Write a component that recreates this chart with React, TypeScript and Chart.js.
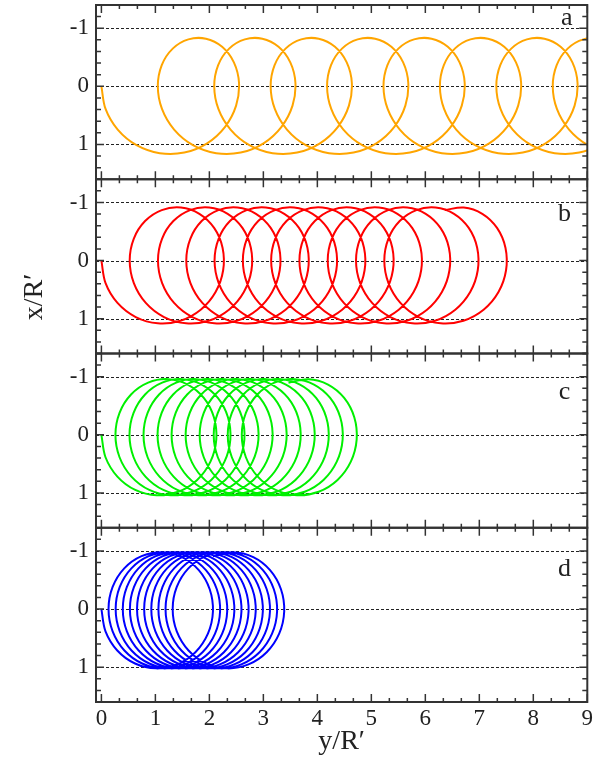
import React, { useEffect, useRef } from 'react';
import { Chart, registerables } from 'chart.js';

Chart.register(...registerables);

// ---------- data ----------
// horizontal coordinate y/R' (…YR) and vertical coordinate x/R' (…XR) along each trajectory
const panelLetters = ['a', 'b', 'c', 'd'];
const xTickValues = [0, 1, 2, 3, 4, 5, 6, 7, 8, 9];
const xTickLabels = ['0', '1', '2', '3', '4', '5', '6', '7', '8', '9'];
const yTickValues = [-1, 0, 1];
const yTickLabels = ['-1', '0', '1'];

const aYR = [
  0, 0.077, 0.302, 0.651, 1.081, 1.536, 1.958, 2.291, 2.495, 2.549, 2.454, 2.236, 1.936, 1.611, 1.321, 1.118,
  1.045, 1.122, 1.347, 1.696, 2.126, 2.581, 3.003, 3.336, 3.540, 3.594, 3.499, 3.281, 2.981, 2.656, 2.366, 2.163,
  2.090, 2.167, 2.392, 2.741, 3.171, 3.626, 4.048, 4.381, 4.585, 4.639, 4.544, 4.326, 4.026, 3.701, 3.411, 3.208,
  3.135, 3.212, 3.437, 3.786, 4.216, 4.671, 5.093, 5.426, 5.630, 5.684, 5.589, 5.371, 5.071, 4.746, 4.456, 4.253,
  4.180, 4.257, 4.482, 4.831, 5.261, 5.716, 6.138, 6.471, 6.675, 6.729, 6.634, 6.416, 6.116, 5.791, 5.501, 5.298,
  5.225, 5.302, 5.527, 5.876, 6.306, 6.761, 7.183, 7.516, 7.720, 7.774, 7.679, 7.461, 7.161, 6.836, 6.546, 6.343,
  6.270, 6.347, 6.572, 6.921, 7.351, 7.806, 8.228, 8.561, 8.765, 8.819, 8.724, 8.506, 8.206, 7.881, 7.591, 7.388,
  7.315, 7.392, 7.617, 7.966, 8.396, 8.851, 9.273, 9.606, 9.810, 9.864, 9.769, 9.551, 9.251, 8.926, 8.636, 8.433,
  8.360, 8.437, 8.662, 9.011, 9.441, 9.896, 10.318, 10.651, 10.855,
];
const aXR = [
  0, 0.390, 0.746, 1.014, 1.152, 1.141, 0.981, 0.697, 0.333, -0.057, -0.413, -0.681, -0.820, -0.808, -0.649, -0.365,
  0, 0.390, 0.746, 1.014, 1.152, 1.141, 0.981, 0.697, 0.333, -0.057, -0.413, -0.681, -0.820, -0.808, -0.649, -0.365,
  0, 0.390, 0.746, 1.014, 1.152, 1.141, 0.981, 0.697, 0.333, -0.057, -0.413, -0.681, -0.820, -0.808, -0.649, -0.365,
  0, 0.390, 0.746, 1.014, 1.152, 1.141, 0.981, 0.697, 0.333, -0.057, -0.413, -0.681, -0.820, -0.808, -0.649, -0.365,
  0, 0.390, 0.746, 1.014, 1.152, 1.141, 0.981, 0.697, 0.333, -0.057, -0.413, -0.681, -0.820, -0.808, -0.649, -0.365,
  0, 0.390, 0.746, 1.014, 1.152, 1.141, 0.981, 0.697, 0.333, -0.057, -0.413, -0.681, -0.820, -0.808, -0.649, -0.365,
  0, 0.390, 0.746, 1.014, 1.152, 1.141, 0.981, 0.697, 0.333, -0.057, -0.413, -0.681, -0.820, -0.808, -0.649, -0.365,
  0, 0.390, 0.746, 1.014, 1.152, 1.141, 0.981, 0.697, 0.333, -0.057, -0.413, -0.681, -0.820, -0.808, -0.649, -0.365,
  0, 0.390, 0.746, 1.014, 1.152, 1.141, 0.981, 0.697, 0.333,
];

const bYR = [
  0, 0.077, 0.298, 0.636, 1.044, 1.465, 1.839, 2.115, 2.255, 2.244, 2.088, 1.815, 1.473, 1.118, 0.809, 0.599,
  0.524, 0.601, 0.822, 1.160, 1.568, 1.989, 2.363, 2.639, 2.779, 2.768, 2.612, 2.339, 1.997, 1.642, 1.333, 1.123,
  1.048, 1.125, 1.346, 1.684, 2.092, 2.513, 2.887, 3.163, 3.303, 3.292, 3.136, 2.863, 2.521, 2.166, 1.857, 1.647,
  1.572, 1.649, 1.870, 2.208, 2.616, 3.037, 3.411, 3.687, 3.827, 3.816, 3.660, 3.387, 3.045, 2.690, 2.381, 2.171,
  2.096, 2.173, 2.394, 2.732, 3.140, 3.561, 3.935, 4.211, 4.351, 4.340, 4.184, 3.911, 3.569, 3.214, 2.905, 2.695,
  2.620, 2.697, 2.918, 3.256, 3.664, 4.085, 4.459, 4.735, 4.875, 4.864, 4.708, 4.435, 4.093, 3.738, 3.429, 3.219,
  3.144, 3.221, 3.442, 3.780, 4.188, 4.609, 4.983, 5.259, 5.399, 5.388, 5.232, 4.959, 4.617, 4.262, 3.953, 3.743,
  3.668, 3.745, 3.966, 4.304, 4.712, 5.133, 5.507, 5.783, 5.923, 5.912, 5.756, 5.483, 5.141, 4.786, 4.477, 4.267,
  4.192, 4.269, 4.490, 4.828, 5.236, 5.657, 6.031, 6.307, 6.447, 6.436, 6.280, 6.007, 5.665, 5.310, 5.001, 4.791,
  4.716, 4.793, 5.014, 5.352, 5.760, 6.181, 6.555, 6.831, 6.971, 6.960, 6.804, 6.531, 6.189, 5.834, 5.525, 5.315,
  5.240, 5.317, 5.538, 5.876, 6.284, 6.705, 7.079, 7.355, 7.495, 7.484, 7.328, 7.055, 6.713, 6.358,
];
const bXR = [
  0, 0.388, 0.729, 0.972, 1.080, 1.036, 0.847, 0.542, 0.167, -0.221, -0.562, -0.805, -0.913, -0.869, -0.680, -0.375,
  0, 0.388, 0.729, 0.972, 1.080, 1.036, 0.847, 0.542, 0.167, -0.221, -0.562, -0.805, -0.913, -0.869, -0.680, -0.375,
  0, 0.388, 0.729, 0.972, 1.080, 1.036, 0.847, 0.542, 0.167, -0.221, -0.562, -0.805, -0.913, -0.869, -0.680, -0.375,
  0, 0.388, 0.729, 0.972, 1.080, 1.036, 0.847, 0.542, 0.167, -0.221, -0.562, -0.805, -0.913, -0.869, -0.680, -0.375,
  0, 0.388, 0.729, 0.972, 1.080, 1.036, 0.847, 0.542, 0.167, -0.221, -0.562, -0.805, -0.913, -0.869, -0.680, -0.375,
  0, 0.388, 0.729, 0.972, 1.080, 1.036, 0.847, 0.542, 0.167, -0.221, -0.562, -0.805, -0.913, -0.869, -0.680, -0.375,
  0, 0.388, 0.729, 0.972, 1.080, 1.036, 0.847, 0.542, 0.167, -0.221, -0.562, -0.805, -0.913, -0.869, -0.680, -0.375,
  0, 0.388, 0.729, 0.972, 1.080, 1.036, 0.847, 0.542, 0.167, -0.221, -0.562, -0.805, -0.913, -0.869, -0.680, -0.375,
  0, 0.388, 0.729, 0.972, 1.080, 1.036, 0.847, 0.542, 0.167, -0.221, -0.562, -0.805, -0.913, -0.869, -0.680, -0.375,
  0, 0.388, 0.729, 0.972, 1.080, 1.036, 0.847, 0.542, 0.167, -0.221, -0.562, -0.805, -0.913, -0.869, -0.680, -0.375,
  0, 0.388, 0.729, 0.972, 1.080, 1.036, 0.847, 0.542, 0.167, -0.221, -0.562, -0.805, -0.913, -0.869,
];

const cYR = [
  0, 0.076, 0.296, 0.627, 1.023, 1.425, 1.774, 2.020, 2.128, 2.084, 1.897, 1.598, 1.236, 0.866, 0.549, 0.336,
  0.260, 0.336, 0.556, 0.887, 1.283, 1.685, 2.034, 2.280, 2.388, 2.344, 2.157, 1.858, 1.496, 1.126, 0.809, 0.596,
  0.520, 0.596, 0.816, 1.147, 1.543, 1.945, 2.294, 2.540, 2.648, 2.604, 2.417, 2.118, 1.756, 1.386, 1.069, 0.856,
  0.780, 0.856, 1.076, 1.407, 1.803, 2.205, 2.554, 2.800, 2.908, 2.864, 2.677, 2.378, 2.016, 1.646, 1.329, 1.116,
  1.040, 1.116, 1.336, 1.667, 2.063, 2.465, 2.814, 3.060, 3.168, 3.124, 2.937, 2.638, 2.276, 1.906, 1.589, 1.376,
  1.300, 1.376, 1.596, 1.927, 2.323, 2.725, 3.074, 3.320, 3.428, 3.384, 3.197, 2.898, 2.536, 2.166, 1.849, 1.636,
  1.560, 1.636, 1.856, 2.187, 2.583, 2.985, 3.334, 3.580, 3.688, 3.644, 3.457, 3.158, 2.796, 2.426, 2.109, 1.896,
  1.820, 1.896, 2.116, 2.447, 2.843, 3.245, 3.594, 3.840, 3.948, 3.904, 3.717, 3.418, 3.056, 2.686, 2.369, 2.156,
  2.080, 2.156, 2.376, 2.707, 3.103, 3.505, 3.854, 4.100, 4.208, 4.164, 3.977, 3.678, 3.316, 2.946, 2.629, 2.416,
  2.340, 2.416, 2.636, 2.967, 3.363, 3.765, 4.114, 4.360, 4.468, 4.424, 4.237, 3.938, 3.576, 3.206, 2.889, 2.676,
  2.600, 2.676, 2.896, 3.227, 3.623, 4.025, 4.374, 4.620, 4.728, 4.684, 4.497, 4.198, 3.836, 3.466,
];
const cXR = [
  0, 0.386, 0.719, 0.949, 1.041, 0.980, 0.777, 0.462, 0.083, -0.303, -0.636, -0.866, -0.958, -0.898, -0.694, -0.379,
  0, 0.386, 0.719, 0.949, 1.041, 0.980, 0.777, 0.462, 0.083, -0.303, -0.636, -0.866, -0.958, -0.898, -0.694, -0.379,
  0, 0.386, 0.719, 0.949, 1.041, 0.980, 0.777, 0.462, 0.083, -0.303, -0.636, -0.866, -0.958, -0.898, -0.694, -0.379,
  0, 0.386, 0.719, 0.949, 1.041, 0.980, 0.777, 0.462, 0.083, -0.303, -0.636, -0.866, -0.958, -0.898, -0.694, -0.379,
  0, 0.386, 0.719, 0.949, 1.041, 0.980, 0.777, 0.462, 0.083, -0.303, -0.636, -0.866, -0.958, -0.898, -0.694, -0.379,
  0, 0.386, 0.719, 0.949, 1.041, 0.980, 0.777, 0.462, 0.083, -0.303, -0.636, -0.866, -0.958, -0.898, -0.694, -0.379,
  0, 0.386, 0.719, 0.949, 1.041, 0.980, 0.777, 0.462, 0.083, -0.303, -0.636, -0.866, -0.958, -0.898, -0.694, -0.379,
  0, 0.386, 0.719, 0.949, 1.041, 0.980, 0.777, 0.462, 0.083, -0.303, -0.636, -0.866, -0.958, -0.898, -0.694, -0.379,
  0, 0.386, 0.719, 0.949, 1.041, 0.980, 0.777, 0.462, 0.083, -0.303, -0.636, -0.866, -0.958, -0.898, -0.694, -0.379,
  0, 0.386, 0.719, 0.949, 1.041, 0.980, 0.777, 0.462, 0.083, -0.303, -0.636, -0.866, -0.958, -0.898, -0.694, -0.379,
  0, 0.386, 0.719, 0.949, 1.041, 0.980, 0.777, 0.462, 0.083, -0.303, -0.636, -0.866, -0.958, -0.898,
];

const dYR = [
  0, 0.076, 0.294, 0.623, 1.012, 1.404, 1.741, 1.973, 2.066, 2.006, 1.804, 1.493, 1.120, 0.744, 0.423, 0.208,
  0.132, 0.208, 0.426, 0.755, 1.144, 1.536, 1.873, 2.105, 2.198, 2.138, 1.936, 1.625, 1.252, 0.876, 0.555, 0.340,
  0.264, 0.340, 0.558, 0.887, 1.276, 1.668, 2.005, 2.237, 2.330, 2.270, 2.068, 1.757, 1.384, 1.008, 0.687, 0.472,
  0.396, 0.472, 0.690, 1.019, 1.408, 1.800, 2.137, 2.369, 2.462, 2.402, 2.200, 1.889, 1.516, 1.140, 0.819, 0.604,
  0.528, 0.604, 0.822, 1.151, 1.540, 1.932, 2.269, 2.501, 2.594, 2.534, 2.332, 2.021, 1.648, 1.272, 0.951, 0.736,
  0.660, 0.736, 0.954, 1.283, 1.672, 2.064, 2.401, 2.633, 2.726, 2.666, 2.464, 2.153, 1.780, 1.404, 1.083, 0.868,
  0.792, 0.868, 1.086, 1.415, 1.804, 2.196, 2.533, 2.765, 2.858, 2.798, 2.596, 2.285, 1.912, 1.536, 1.215, 1.000,
  0.924, 1.000, 1.218, 1.547, 1.936, 2.328, 2.665, 2.897, 2.990, 2.930, 2.728, 2.417, 2.044, 1.668, 1.347, 1.132,
  1.056, 1.132, 1.350, 1.679, 2.068, 2.460, 2.797, 3.029, 3.122, 3.062, 2.860, 2.549, 2.176, 1.800, 1.479, 1.264,
  1.188, 1.264, 1.482, 1.811, 2.200, 2.592, 2.929, 3.161, 3.254, 3.194, 2.992, 2.681, 2.308, 1.932, 1.611, 1.396,
  1.320, 1.396, 1.614, 1.943, 2.332, 2.724, 3.061, 3.293, 3.386, 3.326, 3.124, 2.813, 2.440, 2.064,
];
const dXR = [
  0, 0.384, 0.713, 0.937, 1.021, 0.953, 0.743, 0.423, 0.042, -0.342, -0.671, -0.895, -0.979, -0.911, -0.701, -0.381,
  0, 0.384, 0.713, 0.937, 1.021, 0.953, 0.743, 0.423, 0.042, -0.342, -0.671, -0.895, -0.979, -0.911, -0.701, -0.381,
  0, 0.384, 0.713, 0.937, 1.021, 0.953, 0.743, 0.423, 0.042, -0.342, -0.671, -0.895, -0.979, -0.911, -0.701, -0.381,
  0, 0.384, 0.713, 0.937, 1.021, 0.953, 0.743, 0.423, 0.042, -0.342, -0.671, -0.895, -0.979, -0.911, -0.701, -0.381,
  0, 0.384, 0.713, 0.937, 1.021, 0.953, 0.743, 0.423, 0.042, -0.342, -0.671, -0.895, -0.979, -0.911, -0.701, -0.381,
  0, 0.384, 0.713, 0.937, 1.021, 0.953, 0.743, 0.423, 0.042, -0.342, -0.671, -0.895, -0.979, -0.911, -0.701, -0.381,
  0, 0.384, 0.713, 0.937, 1.021, 0.953, 0.743, 0.423, 0.042, -0.342, -0.671, -0.895, -0.979, -0.911, -0.701, -0.381,
  0, 0.384, 0.713, 0.937, 1.021, 0.953, 0.743, 0.423, 0.042, -0.342, -0.671, -0.895, -0.979, -0.911, -0.701, -0.381,
  0, 0.384, 0.713, 0.937, 1.021, 0.953, 0.743, 0.423, 0.042, -0.342, -0.671, -0.895, -0.979, -0.911, -0.701, -0.381,
  0, 0.384, 0.713, 0.937, 1.021, 0.953, 0.743, 0.423, 0.042, -0.342, -0.671, -0.895, -0.979, -0.911, -0.701, -0.381,
  0, 0.384, 0.713, 0.937, 1.021, 0.953, 0.743, 0.423, 0.042, -0.342, -0.671, -0.895, -0.979, -0.911,
];

// ---------- styling ----------
const FONT = "'Liberation Serif', 'Times New Roman', serif";
const panelIds = ['ya', 'yb', 'yc', 'yd'];
const panelColors = ['#FFA500', '#FF0000', '#00F000', '#0000FF'];
const letterPos = [
  { h: 8.62, v: -1.18 },
  { h: 8.58, v: -0.8 },
  { h: 8.58, v: -0.73 },
  { h: 8.58, v: -0.68 },
];
const X_MIN = -0.1;
const X_MAX = 9;
const Y_MIN = -1.4;
const Y_MAX = 1.6;

const toPoints = (h: number[], v: number[]) => h.map((val, i) => ({ x: val, y: v[i] }));

const decorPlugin = {
  id: 'decor',
  beforeDatasetsDraw(chart: any) {
    const { ctx, chartArea: ca, scales } = chart;
    ctx.save();
    ctx.strokeStyle = '#222';
    ctx.lineWidth = 1;
    ctx.setLineDash([3, 2]);
    panelIds.forEach((id) => {
      const s = scales[id];
      yTickValues.forEach((v) => {
        const py = Math.round(s.getPixelForValue(v)) + 0.5;
        ctx.beginPath();
        ctx.moveTo(ca.left, py);
        ctx.lineTo(ca.right, py);
        ctx.stroke();
      });
    });
    ctx.restore();
  },
  afterDatasetsDraw(chart: any) {
    const { ctx, chartArea: ca, scales } = chart;
    const xs = scales.x;
    ctx.save();
    ctx.strokeStyle = '#333';
    panelIds.forEach((id, pi) => {
      const s = scales[id];
      const top = s.top;
      const bottom = s.bottom;
      // frame
      ctx.lineWidth = 2;
      ctx.strokeRect(ca.left, top, ca.right - ca.left, bottom - top);
      ctx.lineWidth = 1.5;
      // x ticks (major + minor every 1/3)
      for (let k = 0; k <= 27; k++) {
        const v = k / 3;
        const major = k % 3 === 0;
        const len = major ? 8 : 4;
        const px = xs.getPixelForValue(v);
        ctx.beginPath();
        ctx.moveTo(px, top);
        ctx.lineTo(px, top + len);
        ctx.moveTo(px, bottom);
        ctx.lineTo(px, bottom - len);
        ctx.stroke();
      }
      // y ticks (major at -1,0,1, minor every 0.2)
      for (let k = 0; k <= 15; k++) {
        const v = Y_MIN + k * 0.2;
        const major = Math.abs(v - Math.round(v)) < 1e-6;
        const len = major ? 8 : 5;
        const py = s.getPixelForValue(v);
        ctx.beginPath();
        ctx.moveTo(ca.left, py);
        ctx.lineTo(ca.left + len, py);
        ctx.moveTo(ca.right, py);
        ctx.lineTo(ca.right - len, py);
        ctx.stroke();
      }
      // panel letter
      ctx.fillStyle = '#222';
      ctx.font = `26px ${FONT}`;
      ctx.textAlign = 'center';
      ctx.textBaseline = 'middle';
      ctx.fillText(panelLetters[pi], xs.getPixelForValue(letterPos[pi].h), s.getPixelForValue(letterPos[pi].v));
    });
    // y axis title
    ctx.save();
    ctx.translate(35, 297);
    ctx.rotate(-Math.PI / 2);
    ctx.fillStyle = '#222';
    ctx.font = `28px ${FONT}`;
    ctx.textAlign = 'center';
    ctx.textBaseline = 'middle';
    ctx.fillText('x/R\u2032', 0, 0);
    ctx.restore();
    ctx.restore();
  },
};

export default function App() {
  const ref = useRef<HTMLCanvasElement>(null);
  useEffect(() => {
    if (!ref.current) return;
    const series = [
      [aYR, aXR],
      [bYR, bXR],
      [cYR, cXR],
      [dYR, dXR],
    ];
    const yScale = (id: string, w: number) => ({
      type: 'linear',
      position: 'left',
      stack: 'panels',
      stackWeight: 1,
      weight: w,
      reverse: true,
      min: Y_MIN,
      max: Y_MAX,
      offset: false,
      grid: { display: false, drawTicks: false },
      border: { display: false },
      afterBuildTicks: (s: any) => {
        s.ticks = yTickValues.map((v) => ({ value: v }));
      },
      afterFit: (s: any) => {
        s.width = 96;
        s.paddingTop = 0;
        s.paddingBottom = 0;
      },
      ticks: {
        padding: 7,
        color: '#222',
        font: { family: FONT, size: 23 },
        callback: (v: number) => {
          const i = yTickValues.indexOf(v);
          return i >= 0 ? yTickLabels[i] : '';
        },
      },
    });
    const chart = new Chart(ref.current, {
      type: 'scatter',
      data: {
        datasets: series.map((s, i) => ({
          label: panelLetters[i],
          data: toPoints(s[0], s[1]),
          yAxisID: panelIds[i],
          showLine: true,
          borderColor: panelColors[i],
          backgroundColor: panelColors[i],
          borderWidth: 2,
          pointRadius: 0,
          tension: 0.34,
          fill: false,
        })),
      },
      options: {
        responsive: false,
        animation: false,
        events: [],
        layout: { padding: { left: 0, top: 5, right: 15.7, bottom: 0 } },
        plugins: { legend: { display: false }, tooltip: { enabled: false } },
        scales: {
          x: {
            type: 'linear',
            position: 'bottom',
            min: X_MIN,
            max: X_MAX,
            grid: { display: false, drawTicks: false },
            border: { display: false },
            afterBuildTicks: (s: any) => {
              s.ticks = xTickValues.map((v) => ({ value: v }));
            },
            afterFit: (s: any) => {
              s.height = 57;
              s.paddingLeft = 0;
              s.paddingRight = 0;
            },
            ticks: {
              padding: 3,
              color: '#222',
              maxRotation: 0,
              autoSkip: false,
              font: { family: FONT, size: 23 },
              callback: (v: number) => {
                const i = xTickValues.indexOf(v);
                return i >= 0 ? xTickLabels[i] : '';
              },
            },
            title: {
              display: true,
              text: 'y/R\u2032',
              color: '#222',
              font: { family: FONT, size: 28 },
              padding: { top: 0, bottom: 1 },
            },
          },
          ya: yScale('ya', 4),
          yb: yScale('yb', 3),
          yc: yScale('yc', 2),
          yd: yScale('yd', 1),
        } as any,
      },
      plugins: [decorPlugin],
    } as any);
    return () => chart.destroy();
  }, []);
  return (
    <div style={{ position: 'fixed', left: 0, top: 0, width: 603, height: 759, background: '#fff' }}>
      <canvas ref={ref} width={603} height={759} style={{ display: 'block' }} />
    </div>
  );
}
